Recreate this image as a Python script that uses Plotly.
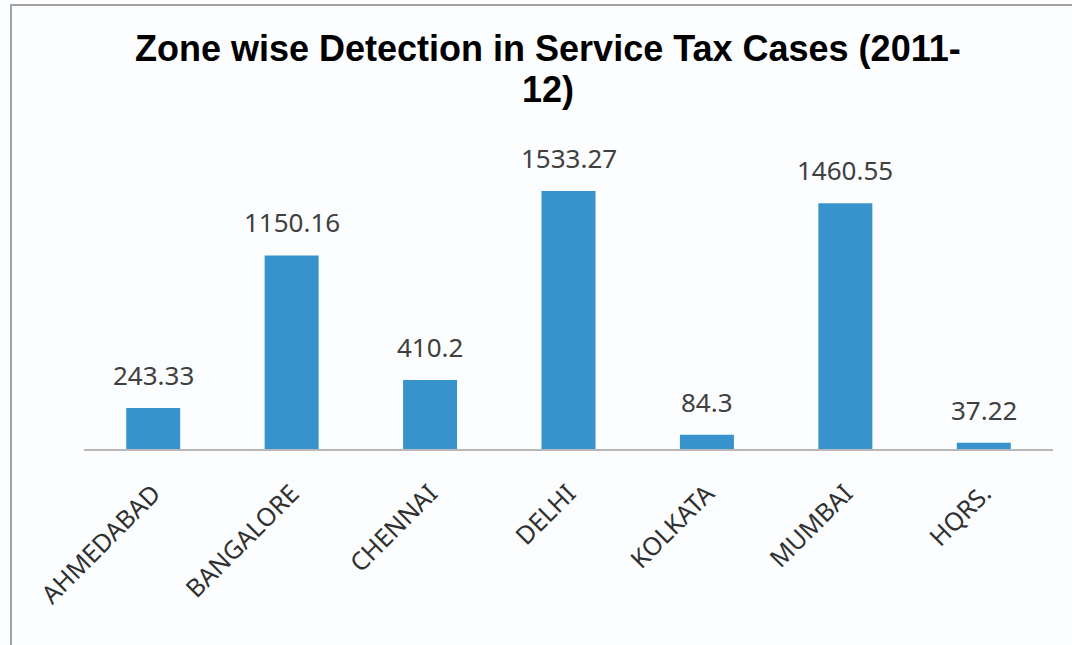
import plotly.graph_objects as go

# Zone-wise detection amounts, service tax cases 2011-12
zones = ["AHMEDABAD", "BANGALORE", "CHENNAI", "DELHI", "KOLKATA", "MUMBAI", "HQRS."]
detection = [243.33, 1150.16, 410.2, 1533.27, 84.3, 1460.55, 37.22]
value_labels = ["243.33", "1150.16", "410.2", "1533.27", "84.3", "1460.55", "37.22"]

W, H = 1072, 645
ML, MR, MT, MB = 84, 19, 100, 196
BG = "#fbfdfe"
BAR = "#3893cc"
TEXT = "#404040"

fig = go.Figure(
    go.Bar(
        x=zones,
        y=detection,
        marker=dict(color=BAR, line=dict(width=0)),
        hoverinfo="x+y",
    )
)

# value labels sitting above each bar
for z, v, t in zip(zones, detection, value_labels):
    fig.add_annotation(
        x=z, y=v, text=t, showarrow=False,
        xanchor="center", yanchor="bottom", yshift=13,
        font=dict(family="Noto Sans", size=26, color=TEXT),
    )

pw, ph = W - ML - MR, H - MT - MB
def px_x(p):
    return (p - ML) / pw
def px_y(p):
    return 1 - (p - MT) / ph

# two-line chart title
title_font = dict(family="Liberation Sans", size=36, color="#000000", weight="bold")
fig.add_annotation(
    xref="paper", yref="paper", x=px_x(548), y=px_y(71),
    text="Zone wise Detection in Service Tax Cases (2011-",
    showarrow=False, xanchor="center", yanchor="bottom", font=title_font,
)
fig.add_annotation(
    xref="paper", yref="paper", x=px_x(548), y=px_y(112),
    text="12)",
    showarrow=False, xanchor="center", yanchor="bottom", font=title_font,
)

# thin frame on the top and left edges of the chart area
frame = dict(color="#a3a3a3", width=2)
fig.add_shape(type="line", xref="paper", yref="paper",
              x0=px_x(10), x1=px_x(W + 5), y0=px_y(5), y1=px_y(5), line=frame)
fig.add_shape(type="line", xref="paper", yref="paper",
              x0=px_x(11), x1=px_x(11), y0=px_y(4), y1=px_y(H + 5), line=frame)

fig.update_layout(
    width=W, height=H,
    margin=dict(l=ML, r=MR, t=MT, b=MB),
    paper_bgcolor=BG, plot_bgcolor=BG,
    bargap=0.61,
    showlegend=False,
    xaxis=dict(
        showline=True, linecolor="#b8b8b8", linewidth=2,
        ticks="", tickangle=-45, ticklabelstandoff=18,
        tickfont=dict(family="Noto Sans", size=25, color="#303030"),
        showgrid=False, zeroline=False,
    ),
    yaxis=dict(
        range=[0, 2074], showticklabels=False, showgrid=False,
        zeroline=False, showline=False,
    ),
)

fig.write_html("out.html")
